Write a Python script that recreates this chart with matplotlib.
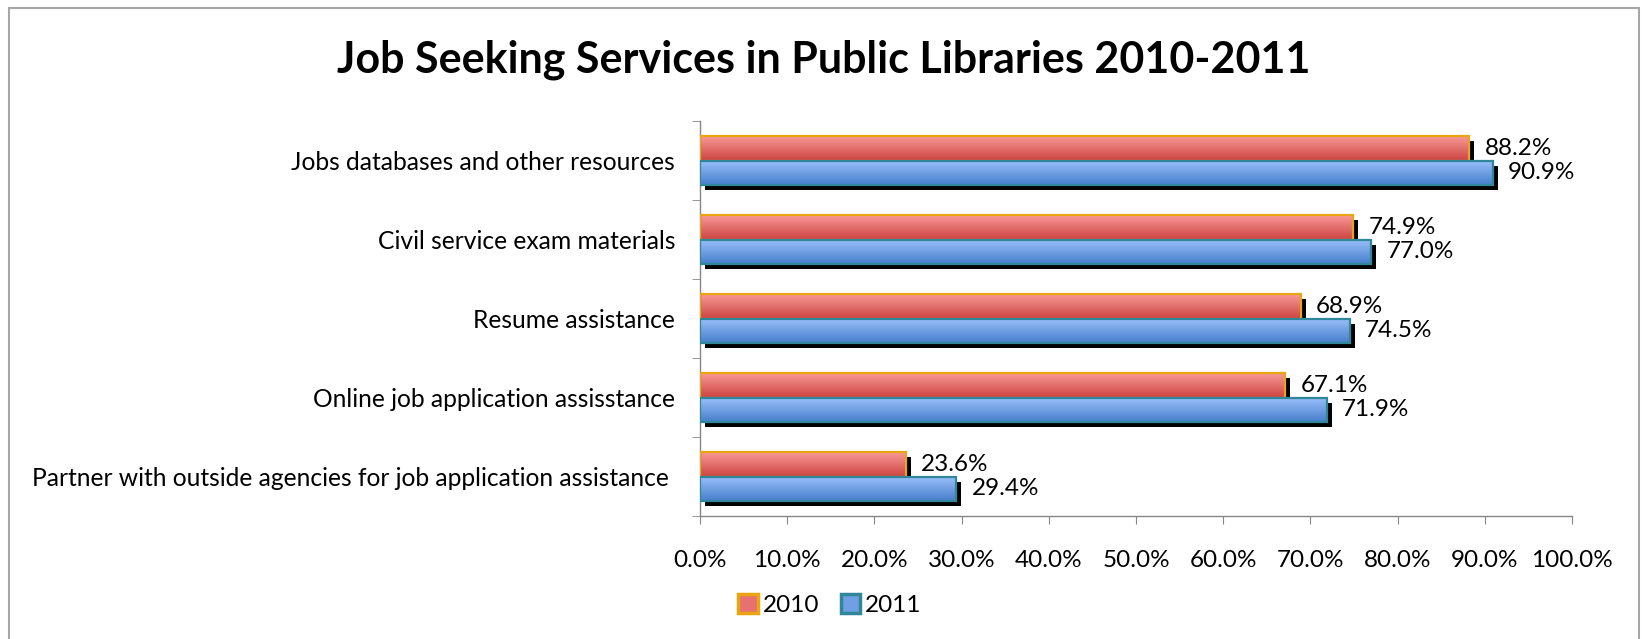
import numpy as np
import matplotlib
matplotlib.use("Agg")
import matplotlib.pyplot as plt
from matplotlib.patches import Rectangle, Patch
from matplotlib.ticker import FuncFormatter
import matplotlib.patheffects as pe
from matplotlib.colors import LinearSegmentedColormap

plt.rcParams['font.family'] = ['Lato', 'DejaVu Sans']

categories = [
    "Jobs databases and other resources",
    "Civil service exam materials",
    "Resume assistance",
    "Online job application assisstance",
    "Partner with outside agencies for job application assistance ",
]
series_names = ["2010", "2011"]
values_2010 = [88.2, 74.9, 68.9, 67.1, 23.6]
values_2011 = [90.9, 77.0, 74.5, 71.9, 29.4]
x_ticks = [0, 10, 20, 30, 40, 50, 60, 70, 80, 90, 100]

W, H, DPI = 1645, 639, 100
fig = plt.figure(figsize=(W / DPI, H / DPI), dpi=DPI)
ax = fig.add_axes([700 / W, 1 - 516 / H, 872 / W, 395 / H])

styles = {
    "2010": dict(top="#fb9d9a", bottom="#cd4644", mid="#e6716f", edge="#e9a512"),
    "2011": dict(top="#9bc0fa", bottom="#467fcc", mid="#709fe3", edge="#2f8799"),
}

bar_h = 0.31
y = np.arange(len(categories))
shadow = [pe.SimplePatchShadow(offset=(3.6, -3.6), shadow_rgbFace="black", alpha=1.0), pe.Normal()]


def gradient_fill(ax, rect, top, bottom, z):
    cmap = LinearSegmentedColormap.from_list("g", [top, bottom])
    grad = np.linspace(0, 1, 64).reshape(-1, 1)
    x0, y0 = rect.get_x(), rect.get_y()
    w, h = rect.get_width(), rect.get_height()
    im = ax.imshow(grad, cmap=cmap, extent=(x0, x0 + w, y0 + h, y0), origin="upper",
                   aspect="auto", interpolation="bilinear", zorder=z)
    im.set_clip_path(rect)


for k, (name, vals, off) in enumerate(zip(series_names, [values_2010, values_2011], [-bar_h / 2, bar_h / 2])):
    st = styles[name]
    z = 2 + 2 * k
    bars = ax.barh(y + off, vals, height=bar_h, color=st["bottom"], edgecolor="none", zorder=z)
    for b in bars:
        b.set_path_effects(shadow)
        gradient_fill(ax, b, st["top"], st["bottom"], z + 0.5)
        ax.add_patch(Rectangle((b.get_x(), b.get_y()), b.get_width(), b.get_height(),
                               fill=False, edgecolor=st["edge"], linewidth=1.6, zorder=z + 0.8))
    for yy, v in zip(y + off, vals):
        ax.annotate(f"{v:.1f}%", (v, yy), xytext=(11, 0), textcoords="offset points",
                    va="center", ha="left", fontsize=17.5, color="black", zorder=10)

ax.set_xlim(0, 100)
ax.set_ylim(len(categories) - 0.5, -0.5)
ax.set_xticks(x_ticks)
ax.xaxis.set_major_formatter(FuncFormatter(lambda v, p: f"{v:.1f}%"))
ax.set_yticks(y)
ax.set_yticklabels(categories)
ax.set_yticks(np.arange(-0.5, len(categories), 1), minor=True)
ax.tick_params(axis="y", which="major", length=0, pad=18, labelsize=17.7)
ax.tick_params(axis="y", which="minor", length=5.5, color="#868686", direction="out")
ax.tick_params(axis="x", which="major", length=5.5, color="#868686", direction="out",
               pad=19, labelsize=17.5)
for s in ["top", "right"]:
    ax.spines[s].set_visible(False)
for s in ["left", "bottom"]:
    ax.spines[s].set_color("#868686")
    ax.spines[s].set_linewidth(1.0)

fig.text(824 / W, 1 - 60 / H, "Job Seeking Services in Public Libraries 2010-2011",
         ha="center", va="center", fontsize=31, fontweight="bold")

handles = [Patch(facecolor=styles[n]["mid"], edgecolor=styles[n]["edge"], linewidth=2.5) for n in series_names]
fig.legend(handles, series_names, loc="center", bbox_to_anchor=(830 / W, 1 - 605 / H),
           ncol=2, frameon=False, fontsize=17.5, handlelength=0.8, handleheight=0.8,
           handletextpad=0.2, columnspacing=0.9)

fig.add_artist(Rectangle((9 / W, -0.05), 1630 / W, (639 - 8) / H + 0.05, transform=fig.transFigure,
                         fill=False, edgecolor="#a6a6a6", linewidth=1.5))

fig.savefig("out.png", dpi=DPI)
